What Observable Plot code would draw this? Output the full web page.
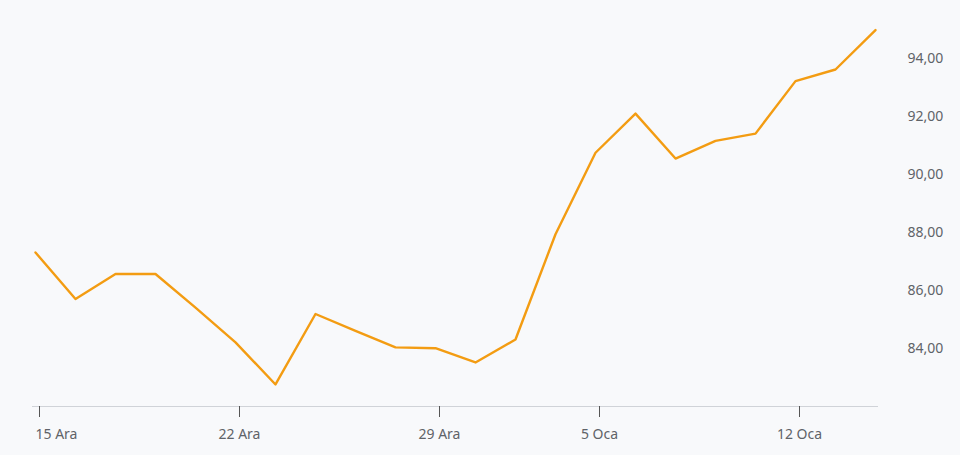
<!DOCTYPE html>
<html>
<head>
<meta charset="utf-8">
<script src="https://cdn.jsdelivr.net/npm/d3@7"></script>
<script src="https://cdn.jsdelivr.net/npm/@observablehq/plot@0.6"></script>
<style>
  html, body { margin: 0; padding: 0; background: #f8f9fb; }
  #chart svg { display: block; background: #f8f9fb; }
</style>
</head>
<body>
<div id="chart"></div>
<script>
const days = [
  "2025-12-15","2025-12-16","2025-12-17","2025-12-18","2025-12-19",
  "2025-12-22","2025-12-23","2025-12-24","2025-12-25","2025-12-26",
  "2025-12-29","2025-12-30","2025-12-31","2026-01-02",
  "2026-01-05","2026-01-06","2026-01-07","2026-01-08","2026-01-09",
  "2026-01-12","2026-01-13","2026-01-14"
];
const closes = [
  87.31, 85.71, 86.57, 86.57, 85.41,
  84.21, 82.76, 85.19, 84.61, 84.04,
  84.01, 83.52, 84.31, 87.94,
  90.75, 92.10, 90.55, 91.16, 91.41,
  93.22, 93.62, 94.98
];
const tickDates = ["2025-12-15","2025-12-22","2025-12-29","2026-01-05","2026-01-12"];
const tickLabels = ["15 Ara","22 Ara","29 Ara","5 Oca","12 Oca"];
const yTicks = [84, 86, 88, 90, 92, 94];

const data = days.map((d, i) => ({day: d, close: closes[i]}));
const labelOf = d => tickLabels[tickDates.indexOf(d)];
const fmt = v => v.toFixed(2).replace(".", ",");

const chart = Plot.plot({
  width: 960,
  height: 455,
  marginTop: 0,
  marginBottom: 49,
  marginLeft: 32,
  marginRight: 82,
  style: {background: "#f8f9fb", fontFamily: "'Noto Sans', sans-serif", fontSize: "14px", color: "#5f6368"},
  x: {type: "point", domain: days, padding: 0},
  y: {domain: [82, 96]},
  marks: [
    Plot.ruleY([82], {stroke: "#d0d3d8", strokeWidth: 1}),
    Plot.axisX({ticks: tickDates, tickSize: 11, tickFormat: () => "", dx: 4, stroke: "#555", label: null}),
    Plot.text(tickDates.slice(0, 1), {x: d => d, text: labelOf, frameAnchor: "bottom", dy: 32, textAnchor: "start", fill: "#5f6368", fontSize: 14}),
    Plot.text(tickDates.slice(1), {x: d => d, text: labelOf, frameAnchor: "bottom", dy: 32, dx: 4, fill: "#5f6368", fontSize: 14}),
    Plot.axisY({anchor: "right", ticks: yTicks, tickSize: 0, tickPadding: 29, tickFormat: fmt, fill: "#5f6368", fontSize: 14, label: null}),
    Plot.lineY(data, {x: "day", y: "close", stroke: "#f39c12", strokeWidth: 2.4})
  ]
});
document.getElementById("chart").append(chart);
</script>
</body>
</html>
